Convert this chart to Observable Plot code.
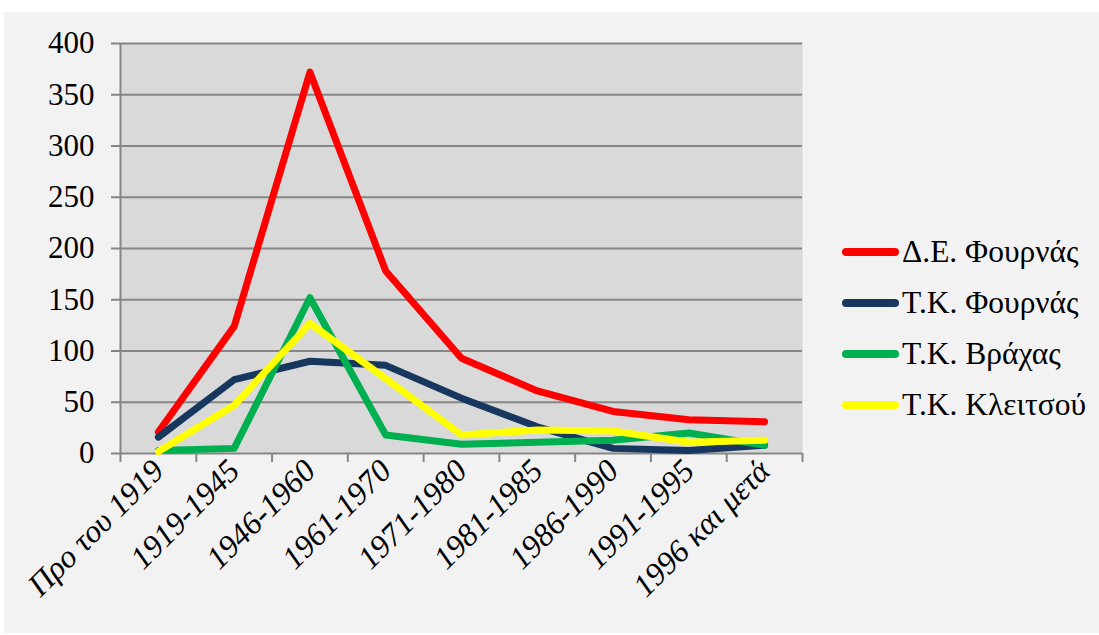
<!DOCTYPE html>
<html>
<head>
<meta charset="utf-8">
<script src="https://cdn.jsdelivr.net/npm/d3@7"></script>
<script src="https://cdn.jsdelivr.net/npm/@observablehq/plot@0.6"></script>
<style>
  html, body { margin: 0; padding: 0; background: #ffffff; }
  #wrap { position: absolute; left: 4px; top: 12px; width: 1095px; height: 621px; background: #f2f2f2; overflow: hidden; }
  #chart { position: absolute; left: 0; top: 0; }
  #legend { position: absolute; left: 838px; top: 214px; font-family: "Liberation Serif", "Times New Roman", serif; font-size: 31.5px; color: #000; }
  .item { display: flex; align-items: center; height: 51px; }
  .sw { display: inline-block; width: 57px; height: 8px; border-radius: 4px; margin-right: 3px; }
</style>
</head>
<body>
<div id="wrap">
  <div id="chart"></div>
  <div id="legend"></div>
</div>
<script>
const categories = ["Προ του 1919", "1919-1945", "1946-1960", "1961-1970", "1971-1980", "1981-1985", "1986-1990", "1991-1995", "1996 και μετά"];
const seriesNames = ["Δ.Ε. Φουρνάς", "Τ.Κ. Φουρνάς", "Τ.Κ. Βράχας", "Τ.Κ. Κλειτσού"];
const seriesColors = ["#ff0000", "#17375e", "#00b050", "#ffff00"];
const deFournas = [21, 124, 372, 178, 93, 61, 41, 33, 31];
const tkFournas = [16, 72, 90, 86, 54, 26, 5, 3, 8];
const tkVrachas = [3, 5, 152, 18, 9, 11, 13, 20, 8];
const tkKleitsou = [2, 47, 127, 73, 18, 23, 22, 11, 13];
const yTicks = [0, 50, 100, 150, 200, 250, 300, 350, 400];

const seriesValues = [deFournas, tkFournas, tkVrachas, tkKleitsou];
const rows = [];
seriesNames.forEach((s, k) => {
  seriesValues[k].forEach((v, i) => rows.push({series: s, i, v}));
});
const n = categories.length;
const xDomain = [-0.5, n - 0.5];
const boundaries = d3.range(n + 1).map(i => i - 0.5);
const gridColor = "#868686";

const chart = Plot.plot({
  width: 830,
  height: 621,
  marginLeft: 116,
  marginRight: 32,
  marginTop: 31,
  marginBottom: 180,
  style: { fontFamily: "Liberation Serif, Times New Roman, serif", background: "transparent", color: "#000", overflow: "visible" },
  x: { type: "linear", domain: xDomain },
  y: { domain: [0, 400] },
  color: { domain: seriesNames, range: seriesColors },
  marks: [
    Plot.frame({ fill: "#d9d9d9", stroke: null }),
    Plot.gridY({ ticks: yTicks, stroke: gridColor, strokeOpacity: 1, strokeWidth: 2 }),
    Plot.ruleX([xDomain[0]], { stroke: gridColor, strokeWidth: 2 }),
    Plot.axisY({ ticks: yTicks, tickSize: 9, tickPadding: 17, fontSize: 31, stroke: gridColor, strokeWidth: 2, fill: "#000", label: null }),
    Plot.axisX({ ticks: boundaries, tickSize: 9, tickFormat: () => "", stroke: gridColor, strokeWidth: 2, label: null }),
    Plot.axisX({ ticks: d3.range(n), tickSize: 0, tickPadding: 12, tickRotate: -45, tickFormat: i => categories[i], fontSize: 32, fontStyle: "italic", fill: "#000", label: null }),
    Plot.line(rows, { x: "i", y: "v", z: "series", stroke: "series", strokeWidth: 7, strokeLinecap: "round", strokeLinejoin: "round" })
  ]
});
document.getElementById("chart").appendChild(chart);

const legend = document.getElementById("legend");
seriesNames.forEach((s, k) => {
  const item = document.createElement("div");
  item.className = "item";
  const sw = document.createElement("span");
  sw.className = "sw";
  sw.style.background = seriesColors[k];
  const t = document.createElement("span");
  t.textContent = s;
  item.appendChild(sw);
  item.appendChild(t);
  legend.appendChild(item);
});
</script>
</body>
</html>
